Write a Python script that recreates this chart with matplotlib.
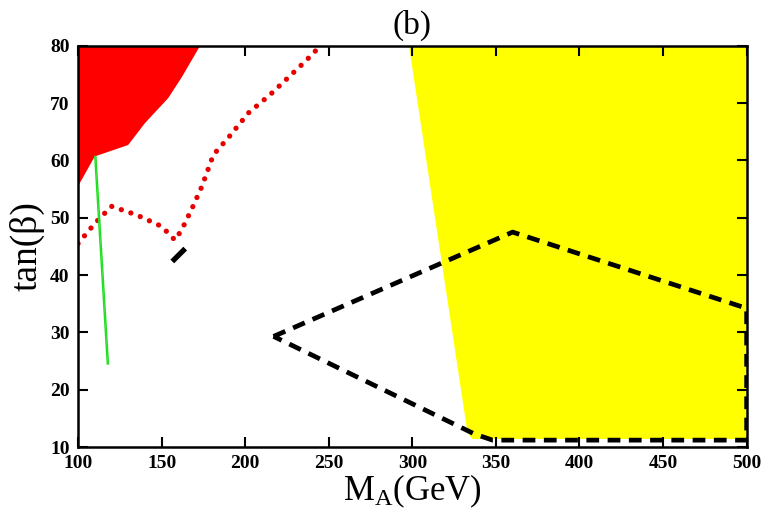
import matplotlib
matplotlib.use('Agg')
import matplotlib.pyplot as plt
from matplotlib.patches import Polygon

plt.rcParams['font.family'] = ['Liberation Serif', 'DejaVu Serif']
plt.rcParams['mathtext.fontset'] = 'custom'
plt.rcParams['mathtext.rm'] = 'Liberation Serif'

# excluded regions (M_A, tan beta)
red_x = [100, 173, 168, 162, 154, 140, 130, 110, 100]
red_y = [80, 80, 77.5, 74.5, 70.9, 66.5, 62.7, 60.7, 55.5]

yellow_x = [298, 500, 500, 336, 333]
yellow_y = [80, 80, 11.4, 11.4, 12.5]

# red dotted curve
dot_x = [100, 110, 120, 135, 150, 158, 162, 168, 174, 181, 190, 202, 215, 236, 245]
dot_y = [45.5, 49.0, 52.0, 50.5, 48.5, 46.1, 47.9, 51.5, 55.4, 61.0, 64.0, 68.3, 71.5, 77.3, 80]

# green line
green_x = [110.0, 117.5]
green_y = [60.7, 24.5]

# black dashed contour
dash_x = [217, 360, 500, 500, 348, 337, 217]
dash_y = [29.3, 47.5, 34.2, 11.2, 11.2, 12.3, 29.3]

# short black segment
seg_x = [157.5, 163]
seg_y = [42.7, 44.3]

fig = plt.figure(figsize=(7.65, 5.15), dpi=100)
ax = fig.add_axes([0.102, 0.132, 0.874, 0.779])

ax.add_patch(Polygon(list(zip(yellow_x, yellow_y)), closed=True, facecolor='#ffff00', edgecolor='none', zorder=1))
ax.add_patch(Polygon(list(zip(red_x, red_y)), closed=True, facecolor='#ff0000', edgecolor='none', zorder=2))

ax.plot(dot_x, dot_y, color='#e60000', lw=3.8, linestyle=(0, (0.01, 1.9)),
        dash_capstyle='round', zorder=3)

ax.plot(green_x, green_y, color='#22dd22', lw=1.0, zorder=4)
ax.plot([g + 0.7 for g in green_x], green_y, color='#22dd22', lw=1.0, zorder=4)

ax.plot(dash_x, dash_y, color='black', lw=3.4, linestyle=(0, (2.7, 1.8)), zorder=5)
ax.plot(seg_x, seg_y, color='black', lw=3.8, zorder=5)

ax.set_xlim(100, 500)
ax.set_ylim(10, 80)
ax.set_xticks(range(100, 501, 50))
ax.set_yticks(range(10, 81, 10))
ax.tick_params(direction='in', length=7, width=1.5, top=True, right=True,
               labelsize=14, pad=6)
for lab in ax.get_xticklabels() + ax.get_yticklabels():
    lab.set_fontweight('bold')
for s in ax.spines.values():
    s.set_linewidth(1.8)
    s.set_zorder(6)

ax.set_xlabel(r'$\mathrm{M_A}$(GeV)', fontsize=25, labelpad=0)
ax.set_ylabel('tan(β)', fontsize=27, labelpad=4)
ax.set_title('(b)', fontsize=24, pad=9)

fig.savefig('out.png', dpi=100)
